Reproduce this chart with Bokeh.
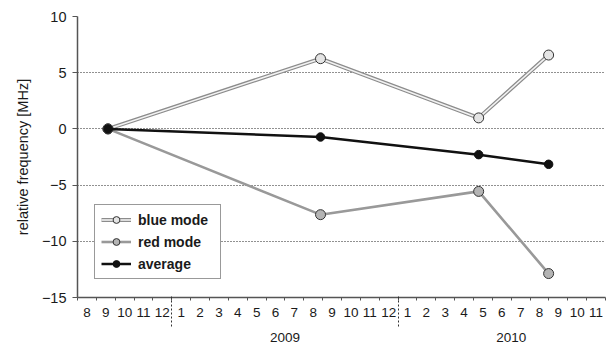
import pandas as pd
from bokeh.plotting import figure
from bokeh.models import LinearAxis, FixedTicker, Range1d, Legend, LegendItem, ColumnDataSource
from bokeh.embed import file_html
from bokeh.resources import INLINE

# ---- data ----
dates = ["2008-09-19", "2009-08-28", "2010-05-09", "2010-08-31"]
blue_mode = [0.0, 6.25, 0.98, 6.57]
red_mode = [0.0, -7.63, -5.56, -12.87]
average = [0.0, -0.72, -2.29, -3.15]

start_year, start_month = 2008, 8
month_labels = [8, 9, 10, 11, 12] + list(range(1, 13)) + list(range(1, 12))
year_labels = ["2009", "2010"]
y_ticks = [-15, -10, -5, 0, 5, 10]


def month_pos(d):
    t = pd.Timestamp(d)
    return ((t.year - start_year) * 12 + (t.month - start_month)
            + (t.day - 0.5) / t.days_in_month - 0.5)


x = [month_pos(d) for d in dates]
src = ColumnDataSource(dict(x=x, blue=blue_mode, red=red_mode, avg=average))

FONT = "Liberation Sans"
TXT = "#1a1a1a"
AX = "#555555"

n_months = len(month_labels)
p = figure(width=608, height=344, output_backend="svg", toolbar_location=None,
           x_range=Range1d(-0.5, n_months - 0.5), y_range=Range1d(-15, 10),
           min_border_left=77, min_border_right=3, min_border_top=16, min_border_bottom=46)
p.outline_line_color = None
p.background_fill_color = "white"
p.xgrid.visible = False

# y axis
ya = p.yaxis[0]
ya.ticker = FixedTicker(ticks=y_ticks)
ya.axis_label = "relative frequency [MHz]"
ya.axis_label_text_font = FONT
ya.axis_label_text_font_size = "14.5px"
ya.axis_label_text_font_style = "normal"
ya.axis_label_text_color = TXT
ya.axis_label_standoff = 8
ya.major_label_text_font = FONT
ya.major_label_text_font_size = "14.5px"
ya.major_label_text_color = TXT
ya.major_label_standoff = 6
ya.axis_line_color = AX
ya.axis_line_width = 1.5
ya.major_tick_line_color = AX
ya.major_tick_out = 5
ya.major_tick_in = 0
ya.minor_tick_line_color = None

p.ygrid.grid_line_color = "#222222"
p.ygrid.grid_line_dash = "1 2"
p.ygrid.grid_line_width = 1

# month axis
xa = p.xaxis[0]
month_ticks = list(range(n_months))
boundaries = [i - 0.5 for i in range(n_months + 1)]
xa.ticker = FixedTicker(ticks=month_ticks, minor_ticks=boundaries)
xa.major_label_overrides = {i: str(m) for i, m in zip(month_ticks, month_labels)}
xa.major_label_text_font = FONT
xa.major_label_text_font_size = "13.5px"
xa.major_label_text_color = TXT
xa.major_label_standoff = 7
xa.major_tick_line_color = None
xa.major_tick_out = 0
xa.major_tick_in = 0
xa.minor_tick_line_color = AX
xa.minor_tick_out = 3
xa.minor_tick_in = 0
xa.axis_line_color = AX
xa.axis_line_width = 1.5

# year axis with dashed separators
year_starts = [(int(y) - start_year) * 12 + (1 - start_month) for y in year_labels]
year_centers = [s + 5.5 for s in year_starts]
year_bounds = [s - 0.5 for s in year_starts]
ya2 = LinearAxis(ticker=FixedTicker(ticks=year_centers, minor_ticks=year_bounds))
ya2.major_label_overrides = {c: y for c, y in zip(year_centers, year_labels)}
ya2.major_label_text_font = FONT
ya2.major_label_text_font_size = "13.5px"
ya2.major_label_text_color = TXT
ya2.major_label_standoff = 6
ya2.axis_line_color = None
ya2.major_tick_line_color = None
ya2.major_tick_out = 0
ya2.major_tick_in = 0
ya2.minor_tick_line_color = "#333333"
ya2.minor_tick_line_dash = "2 2"
ya2.minor_tick_in = 24
ya2.minor_tick_out = 7
p.add_layout(ya2, "below")

# series
b1 = p.line("x", "blue", source=src, line_color="#8c8c8c", line_width=4)
b2 = p.line("x", "blue", source=src, line_color="#f2f2f2", line_width=1.6)
b3 = p.scatter("x", "blue", source=src, size=10, fill_color="#e4e4e4", line_color="#333333", line_width=1)

r1 = p.line("x", "red", source=src, line_color="#999999", line_width=2.6)
r2 = p.scatter("x", "red", source=src, size=10, fill_color="#b4b4b4", line_color="#333333", line_width=1)

a1 = p.line("x", "avg", source=src, line_color="#111111", line_width=2.5)
a2 = p.scatter("x", "avg", source=src, size=8.5, fill_color="#111111", line_color="#111111")

legend = Legend(items=[LegendItem(label="blue mode", renderers=[b1, b2, b3]),
                       LegendItem(label="red mode", renderers=[r1, r2]),
                       LegendItem(label="average", renderers=[a1, a2])],
                location=(17, 18), margin=0, padding=6, spacing=5,
                glyph_width=30, glyph_height=17, label_standoff=7, label_width=76,
                label_text_font=FONT, label_text_font_size="14px",
                label_text_font_style="bold", label_text_color=TXT,
                border_line_color="#333333", border_line_width=1,
                background_fill_color="white", background_fill_alpha=1)
p.add_layout(legend, "center")

open("out.html", "w").write(file_html(p, INLINE))
